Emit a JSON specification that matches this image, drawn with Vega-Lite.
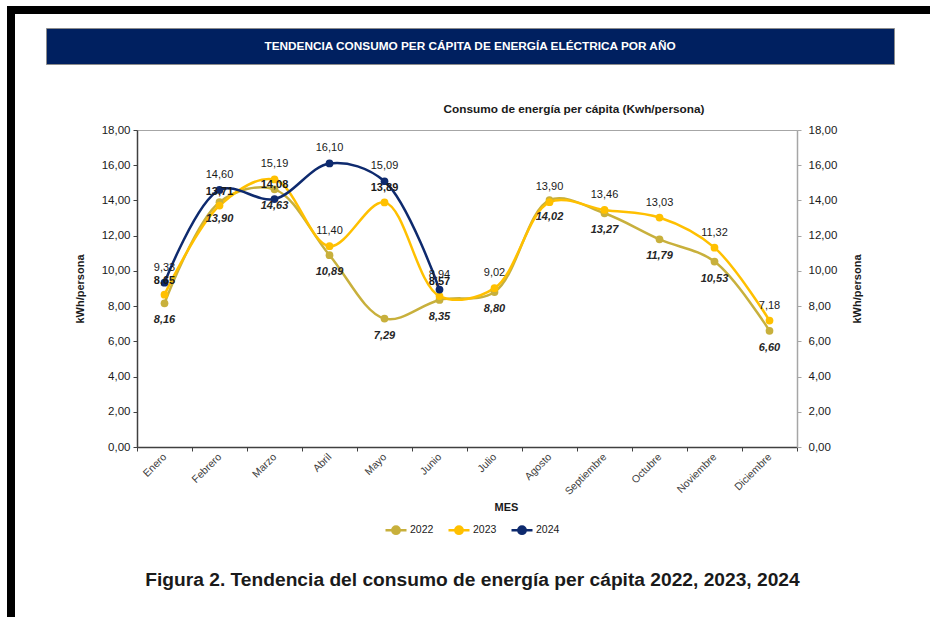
{
  "$schema": "https://vega.github.io/schema/vega-lite/v6.json",
  "padding": {"left": 7, "top": 4, "right": 0, "bottom": 0},
  "background": "white",
  "config": {
    "locale": {"number": {"decimal": ",", "thousands": ".", "grouping": [3], "currency": ["", " €"]}},
    "view": {"stroke": null},
    "font": "Liberation Sans"
  },
  "datasets": {
    "consumo": [
      {"mes": "Enero", "anio": "2022", "valor": 8.16},
      {"mes": "Febrero", "anio": "2022", "valor": 13.90},
      {"mes": "Marzo", "anio": "2022", "valor": 14.63},
      {"mes": "Abril", "anio": "2022", "valor": 10.89},
      {"mes": "Mayo", "anio": "2022", "valor": 7.29},
      {"mes": "Junio", "anio": "2022", "valor": 8.35},
      {"mes": "Julio", "anio": "2022", "valor": 8.80},
      {"mes": "Agosto", "anio": "2022", "valor": 14.02},
      {"mes": "Septiembre", "anio": "2022", "valor": 13.27},
      {"mes": "Octubre", "anio": "2022", "valor": 11.79},
      {"mes": "Noviembre", "anio": "2022", "valor": 10.53},
      {"mes": "Diciembre", "anio": "2022", "valor": 6.60},
      {"mes": "Enero", "anio": "2023", "valor": 8.65},
      {"mes": "Febrero", "anio": "2023", "valor": 13.71},
      {"mes": "Marzo", "anio": "2023", "valor": 15.19},
      {"mes": "Abril", "anio": "2023", "valor": 11.40},
      {"mes": "Mayo", "anio": "2023", "valor": 13.89},
      {"mes": "Junio", "anio": "2023", "valor": 8.57},
      {"mes": "Julio", "anio": "2023", "valor": 9.02},
      {"mes": "Agosto", "anio": "2023", "valor": 13.90},
      {"mes": "Septiembre", "anio": "2023", "valor": 13.46},
      {"mes": "Octubre", "anio": "2023", "valor": 13.03},
      {"mes": "Noviembre", "anio": "2023", "valor": 11.32},
      {"mes": "Diciembre", "anio": "2023", "valor": 7.18},
      {"mes": "Enero", "anio": "2024", "valor": 9.33},
      {"mes": "Febrero", "anio": "2024", "valor": 14.60},
      {"mes": "Marzo", "anio": "2024", "valor": 14.08},
      {"mes": "Abril", "anio": "2024", "valor": 16.10},
      {"mes": "Mayo", "anio": "2024", "valor": 15.09},
      {"mes": "Junio", "anio": "2024", "valor": 8.94}
    ]
  },
  "spacing": 0,
  "hconcat": [
    {
      "width": 8, "height": 613,
      "view": {"fill": "#000000", "stroke": null},
      "data": {"values": [{"t": ""}]},
      "mark": "text",
      "encoding": {"text": {"field": "t", "type": "nominal"}}
    },
    {
      "spacing": 0,
      "title": {
        "text": "Figura 2. Tendencia del consumo de energía per cápita 2022, 2023, 2024",
        "orient": "bottom", "anchor": "middle", "fontSize": 19.2, "fontWeight": "bold",
        "font": "Liberation Sans", "color": "#1a1a1a", "offset": 58
      },
      "vconcat": [
        {
          "width": 915, "height": 8,
          "view": {"fill": "#000000", "stroke": null},
          "data": {"values": [{"t": ""}]},
          "mark": "text",
          "encoding": {"text": {"field": "t", "type": "nominal"}}
        },
        {
          "width": 10, "height": 12,
          "data": {"values": [{"t": ""}]},
          "mark": "text",
          "encoding": {"text": {"field": "t", "type": "nominal"}}
        },
        {
          "spacing": 0,
          "hconcat": [
            {
              "width": 30, "height": 36,
              "data": {"values": [{"t": ""}]},
              "mark": "text",
              "encoding": {"text": {"field": "t", "type": "nominal"}}
            },
            {
              "width": 848, "height": 36,
              "view": {"fill": "#002060", "stroke": "#8c8c8c"},
              "data": {"values": [{"t": "TENDENCIA CONSUMO PER CÁPITA DE ENERGÍA ELÉCTRICA POR AÑO"}]},
              "mark": {"type": "text", "color": "#ffffff", "fontWeight": "bold", "fontSize": 11.8, "font": "Liberation Sans"},
              "encoding": {"text": {"field": "t", "type": "nominal"}}
            }
          ]
        },
        {
          "width": 10, "height": 38,
          "data": {"values": [{"t": ""}]},
          "mark": "text",
          "encoding": {"text": {"field": "t", "type": "nominal"}}
        },
        {
          "spacing": 0,
          "hconcat": [
            {
              "width": 58, "height": 10,
              "data": {"values": [{"t": ""}]},
              "mark": "text",
              "encoding": {"text": {"field": "t", "type": "nominal"}}
            },
            {
              "width": 660, "height": 317,
              "view": {"stroke": "#a6a6a6"},
              "data": {"name": "consumo"},
              "title": {
                "text": "Consumo de energía per cápita (Kwh/persona)", "fontSize": 11.8, "fontWeight": "bold",
                "dx": 107, "offset": 8, "color": "#1a1a1a", "anchor": "middle", "font": "Liberation Sans"
              },
              "encoding": {
                "x": {
                  "field": "mes", "type": "ordinal",
                  "sort": ["Enero", "Febrero", "Marzo", "Abril", "Mayo", "Junio", "Julio", "Agosto", "Septiembre", "Octubre", "Noviembre", "Diciembre"],
                  "bandPosition": 0.5,
                  "scale": {"type": "band", "paddingInner": 0, "paddingOuter": 0},
                  "axis": {
                    "title": "MES", "titleFontWeight": "bold", "titleFontSize": 11, "titleColor": "#1a1a1a",
                    "titlePadding": 5, "titleX": 369,
                    "labelAngle": -45, "labelAlign": "right", "labelBaseline": "middle",
                    "labelFontSize": 10.5, "labelColor": "#404040", "labelPadding": 4,
                    "tickBand": "extent", "tickSize": 4, "tickColor": "#404040",
                    "domainColor": "#404040", "domainWidth": 1.5, "grid": false
                  }
                },
                "y": {
                  "field": "valor", "type": "quantitative",
                  "scale": {"domain": [0, 18]},
                  "axis": {
                    "title": "kWh/persona", "titleFontWeight": "bold", "titleFontSize": 11, "titleColor": "#1a1a1a",
                    "titlePadding": 16, "values": [0, 2, 4, 6, 8, 10, 12, 14, 16, 18], "format": ".2f",
                    "labelFontSize": 11.5, "labelColor": "#1a1a1a", "labelPadding": 3,
                    "tickSize": 4, "tickColor": "#404040", "domainColor": "#404040", "domainWidth": 1.5, "grid": false
                  }
                },
                "color": {
                  "field": "anio", "type": "nominal",
                  "scale": {"domain": ["2022", "2023", "2024"], "range": ["#C8B03C", "#FFC000", "#0E2A6E"]},
                  "legend": {
                    "orient": "none", "legendX": 377, "legendY": 512, "direction": "horizontal", "title": null,
                    "symbolType": "M-1,0L1,0M-0.35,0A0.35,0.35,0,1,1,0.35,0A0.35,0.35,0,1,1,-0.35,0Z",
                    "symbolSize": 441, "symbolStrokeWidth": 2.5,
                    "labelFontSize": 10.5, "labelColor": "#1a1a1a", "columnPadding": 9, "labelOffset": 2,
                    "encode": {"symbols": {"update": {"fill": {"scale": "color", "field": "value"}, "stroke": {"scale": "color", "field": "value"}}}}
                  }
                }
              },
              "layer": [
                {"mark": {"type": "line", "interpolate": "catmull-rom", "strokeWidth": 2.5}},
                {
                  "mark": {"type": "circle", "size": 60, "opacity": 1},
                  "encoding": {
                    "y": {
                      "field": "valor", "type": "quantitative",
                      "axis": {
                        "orient": "right", "title": "kWh/persona", "titleAngle": 270, "titleFontWeight": "bold", "titleFontSize": 11,
                        "titleColor": "#1a1a1a", "titlePadding": 26, "values": [0, 2, 4, 6, 8, 10, 12, 14, 16, 18], "format": ".2f",
                        "labelFontSize": 11.5, "labelColor": "#1a1a1a", "labelPadding": 7,
                        "tickSize": 4, "tickColor": "#a6a6a6", "domainColor": "#a6a6a6", "domainWidth": 1.5, "grid": false
                      }
                    }
                  }
                },
                {
                  "transform": [{"filter": "datum.anio == '2022'"}],
                  "mark": {"type": "text", "dy": 17, "fontSize": 11, "fontWeight": "bold", "fontStyle": "italic"},
                  "encoding": {
                    "y": {"field": "valor", "type": "quantitative", "axis": null},
                    "text": {"field": "valor", "type": "quantitative", "format": ".2f"},
                    "color": {"value": "#262626"}
                  }
                },
                {
                  "transform": [{"filter": "datum.anio != '2022' && !((datum.anio == '2023' && indexof(['Enero','Febrero','Mayo','Junio'], datum.mes) >= 0) || (datum.anio == '2024' && datum.mes == 'Marzo'))"}],
                  "mark": {"type": "text", "dy": -15, "fontSize": 11},
                  "encoding": {
                    "y": {"field": "valor", "type": "quantitative", "axis": null},
                    "text": {"field": "valor", "type": "quantitative", "format": ".2f"},
                    "color": {"value": "#1a1a1a"}
                  }
                },
                {
                  "transform": [{"filter": "(datum.anio == '2023' && indexof(['Enero','Febrero','Mayo','Junio'], datum.mes) >= 0) || (datum.anio == '2024' && datum.mes == 'Marzo')"}],
                  "mark": {"type": "text", "dy": -14, "fontSize": 11, "fontWeight": "bold"},
                  "encoding": {
                    "y": {"field": "valor", "type": "quantitative", "axis": null},
                    "text": {"field": "valor", "type": "quantitative", "format": ".2f"},
                    "color": {"value": "#1a1a1a"}
                  }
                }
              ],
              "resolve": {"axis": {"y": "independent"}}
            }
          ]
        }
      ]
    }
  ]
}
